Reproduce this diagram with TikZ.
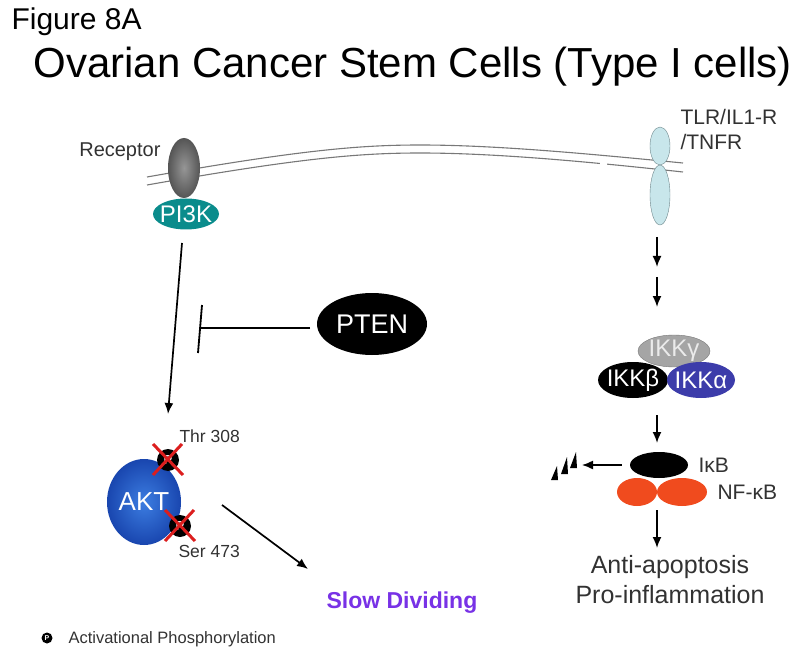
\documentclass[tikz,border=0pt]{standalone}
\usepackage{fontspec}
\setmainfont{Liberation Sans}
\usetikzlibrary{arrows.meta,shapes.geometric}
\definecolor{membcol}{RGB}{120,120,120}
\definecolor{recin}{RGB}{150,150,150}
\definecolor{recout}{RGB}{85,85,85}
\definecolor{pitealcol}{RGB}{10,140,140}
\definecolor{tlrcol}{RGB}{200,230,235}
\definecolor{tlredge}{RGB}{110,135,140}
\definecolor{ikkgcol}{RGB}{165,165,165}
\definecolor{ikkgtext}{RGB}{235,235,235}
\definecolor{ikkacol}{RGB}{60,60,170}
\definecolor{nfkbcol}{RGB}{240,75,30}
\definecolor{aktin}{RGB}{60,125,225}
\definecolor{aktout}{RGB}{25,70,175}
\definecolor{slowcol}{RGB}{120,50,230}
\definecolor{labgray}{RGB}{50,50,50}
\definecolor{xred}{RGB}{220,30,30}
\newcommand\fsz[1]{\fontsize{#1}{#1}\selectfont}

\begin{document}
\begin{tikzpicture}[x=1pt,y=-1pt,
	blob/.style={ellipse,inner sep=0pt},
	sig/.style={-{Latex[length=11pt,width=9pt]},line width=1.7pt},
	memb/.style={draw=membcol,line width=1.1pt},
	psite/.style={circle,fill=black,inner sep=0pt,minimum size=22},
	xmark/.style={draw=xred,line width=3pt}]
			\useasboundingbox (0,0) rectangle (800,652);
			\node[anchor=base west,font=\fsz{30}] (fig) at (8,30) {Figure 8A};
			\node[anchor=base west,font=\fsz{42}] (title) at (30,78) {Ovarian Cancer Stem Cells (Type I cells)};
			
			\draw[memb] (147,177) .. controls (300,150) and (360,145) .. (420,145) .. controls (500,145) and (600,155) .. (683,163);
			\draw[memb] (147,185) .. controls (300,158) and (360,153) .. (420,153) .. controls (500,153) and (600,163) .. (683,172);
			\fill[white] (600,160.5) rectangle (607,171);
			
			\node[blob,minimum width=32,minimum height=60,inner color=recin,outer color=recout] (rec) at (184,168) {};
			\node[anchor=base east,font=\fsz{20},text=labgray] (reclab) at (164,157) {Receptor};
			\node[blob,fill=pitealcol,minimum width=66,minimum height=31,label={[text=white,font=\fsz{24}]center:PI3K}] (pi3k) at (186,214) {};
			
			\node[blob,fill=tlrcol,draw=tlredge,minimum width=20,minimum height=38] (tlrtop) at (660,146) {};
			\node[blob,fill=tlrcol,draw=tlredge,minimum width=20,minimum height=60] (tlrbot) at (660,195) {};
			\node[anchor=base west,font=\fsz{21},text=labgray] (tlrlab) at (677,125) {TLR/IL1-R};
			\node[anchor=base west,font=\fsz{21},text=labgray] (tnfrlab) at (677,150) {/TNFR};
			
			\coordinate (s1) at (657,237);
			\coordinate (s2) at (657,267);
			\coordinate (s3) at (657,277);
			\coordinate (s4) at (657,307);
			\draw[sig] (s1) -- (s2);
			\draw[sig] (s3) -- (s4);
			
			\node[blob,fill=ikkgcol,draw=membcol,minimum width=72,minimum height=32,label={[text=ikkgtext,font=\fsz{24}]center:IKKγ}] (ikkg) at (674,351) {};
			\node[blob,fill=black,minimum width=70,minimum height=36,label={[text=white,font=\fsz{24}]center:IKKβ}] (ikkb) at (633,380) {};
			\node[blob,fill=ikkacol,minimum width=68,minimum height=36,label={[text=white,font=\fsz{24}]center:IKKα}] (ikka) at (701,380) {};
			
			\coordinate (k1) at (657,415);
			\coordinate (k2) at (657,443);
			\draw[sig] (k1) -- (k2);
			
			\node[blob,fill=black,minimum width=58,minimum height=26] (ikb) at (659,465) {};
			\node[anchor=west,font=\fsz{21},text=labgray] (ikblab) at (695,465) {IκB};
			\node[blob,fill=nfkbcol,minimum width=40,minimum height=28] (nfl) at (637,492) {};
			\node[blob,fill=nfkbcol,minimum width=50,minimum height=28] (nfr) at (682,492) {};
			\node[anchor=west,font=\fsz{21},text=labgray] (nflab) at (714,492) {NF-κB};
			
			\coordinate (deg) at (582,465);
			\draw[sig,line width=1.4pt,shorten <=8pt] (ikb.west) -- (deg);
			\foreach \tx/\tb/\tt in {551/480/466,561/474/457,570/468/452}
				\fill (\tx,\tb) -- (\tx+7,\tb) -- (\tx+6,\tt) -- cycle;
			
			\coordinate (n1) at (657,510);
			\coordinate (n2) at (657,548);
			\draw[sig] (n1) -- (n2);
			\node[anchor=base,font=\fsz{25},text=labgray] (anti) at (670,573) {Anti-apoptosis};
			\node[anchor=base,font=\fsz{25},text=labgray] (proinf) at (670,603) {Pro-inflammation};
			
			\coordinate (p1) at (182,243);
			\coordinate (p2) at (168,414);
			\draw[sig] (p1) -- (p2);
			
			\node[blob,fill=black,minimum width=110,minimum height=62,label={[text=white,font=\fsz{27}]center:PTEN}] (pten) at (372,324) {};
			\coordinate (ptenout) at (310,328);
			\coordinate (bar) at (201,328);
			\coordinate (bartop) at (202,305);
			\coordinate (barbot) at (198,353);
			\draw[line width=1.8pt] (ptenout) -- (bar);
			\draw[line width=1.8pt] (bartop) -- (barbot);
			
			\node[blob,minimum width=74,minimum height=86,inner color=aktin,outer color=aktout,label={[text=white,font=\fsz{26}]center:AKT}] (akt) at (144,502) {};
			\foreach \px/\py/\nm in {168/460/thr,180/526/ser}{
				\node[psite,label={[text=white,font=\fsz{13}\bfseries]center:P}] (\nm) at (\px,\py) {};
				\draw[xmark] (\px-15,\py-16) -- (\px+15,\py+15);
				\draw[xmark] (\px+14,\py-16) -- (\px-15,\py+15);
			}
			\node[anchor=base west,font=\fsz{17.5},text=labgray] (thrlab) at (176,442) {Thr 308};
			\node[anchor=base west,font=\fsz{17.5},text=labgray] (serlab) at (175,557) {Ser 473};
			
			\coordinate (a1) at (222,505);
			\coordinate (a2) at (308,569);
			\draw[sig] (a1) -- (a2);
			\node[anchor=base west,font=\fsz{23}\bfseries,text=slowcol] (slow) at (323,608) {Slow Dividing};
			
			\node[circle,fill=black,inner sep=0pt,minimum size=11,label={[text=white,font=\fsz{7}\bfseries]center:P}] (legp) at (47,638) {};
			\node[anchor=base west,font=\fsz{16.5},text=labgray] (legtxt) at (65,643) {Activational Phosphorylation};
			\end{tikzpicture}
\end{document}
